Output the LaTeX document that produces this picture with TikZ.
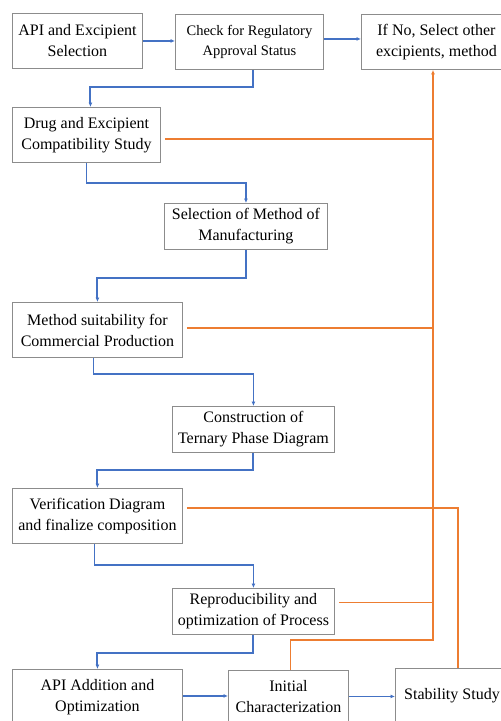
\documentclass[tikz,border=0pt]{standalone}
\usepackage{fontspec}
\setmainfont{Liberation Serif}
\usetikzlibrary{calc,arrows.meta}
\definecolor{flowblue}{HTML}{4472C4}
\definecolor{feedorange}{HTML}{ED7D31}

\begin{document}
\begin{tikzpicture}[>={Latex[length=4.5pt,width=4pt]},x=1pt,y=-1pt,
  box/.style={draw=black!45,line width=0.9pt,anchor=north west,align=center,
    inner sep=2pt,font=\fontsize{16}{21}\selectfont},
  flow/.style={->,draw=flowblue,line width=1.3pt},
  flowthick/.style={flow,line width=2pt},
  feed/.style={draw=feedorange,line width=1.6pt}]
  \useasboundingbox (0,0) rectangle (501,721);

  \node[box,minimum width=130,minimum height=55] (apisel) at (12,13) {API and Excipient\\Selection};
  \node[box,minimum width=148,minimum height=55,font=\fontsize{14.5}{20}\selectfont] (check) at (175,14) {Check for Regulatory\\Approval Status};
  \node[box,minimum width=150,minimum height=55] (ifno) at (361,14) {If No, Select other\\excipients, method};
  \node[box,minimum width=148,minimum height=55] (drug) at (12,107) {Drug and Excipient\\Compatibility Study};
  \node[box,minimum width=163,minimum height=46] (method) at (164,203) {Selection of Method of\\Manufacturing};
  \node[box,minimum width=170,minimum height=55] (suit) at (12,302) {Method suitability for\\Commercial Production};
  \node[box,minimum width=162,minimum height=46] (ternary) at (172,406) {Construction of\\Ternary Phase Diagram};
  \node[box,minimum width=170,minimum height=55] (verif) at (12,488) {Verification Diagram\\and finalize composition};
  \node[box,minimum width=162,minimum height=46] (repro) at (172,588) {Reproducibility and\\optimization of Process};
  \node[box,minimum width=170,minimum height=55] (apiadd) at (12,669) {API Addition and\\Optimization};
  \node[box,minimum width=120,minimum height=52] (initchar) at (228,670) {Initial\\Characterization};
  \node[box,minimum width=113,minimum height=55] (stab) at (395,668) {Stability Study};

  \draw[flowthick] (apisel.east) -- (apisel.east -| check.west);
  \draw[flow] ([yshift=3pt]check.east) -- ([yshift=3pt]check.east -| ifno.west);
  \draw[flowthick] ([xshift=4pt]check.south) -- ++(0,17) -| ([xshift=4pt]drug.north);
  \draw[flow,line width=1.5pt] (drug.south) -- ++(0,20) -| (method.north);
  \draw[flowthick] (method.south) -- ++(0,28) -| (suit.north);
  \draw[flow] ([xshift=-4pt]suit.south) -- ++(0,16) -| (ternary.north);
  \draw[flowthick] (ternary.south) -- ++(0,17) -| (verif.north);
  \draw[flow,line width=1.5pt] ([xshift=-3pt]verif.south) -- ++(0,21) -| (repro.north);
  \draw[flowthick] (repro.south) -- ++(0,18) -| (apiadd.north);
  \draw[flow] ([yshift=1pt]apiadd.east) -- ([yshift=1pt]apiadd.east -| initchar.west);
  \draw[flow] (initchar.east) -- (initchar.east -| stab.west);

  \coordinate (trunk) at (433,640);
  \draw[feed,->] ([xshift=2pt]initchar.north) |- (trunk) -- (trunk |- ifno.south);
  \foreach \src/\dy in {drug/-4,suit/2,repro/9}
    \draw[feed] ([xshift=4pt,yshift=\dy pt]\src.east) -- ([yshift=\dy pt]\src.east -| trunk);
  \draw[feed] ([xshift=4pt,yshift=8pt]verif.east) -| ([xshift=6pt]stab.north);
\end{tikzpicture}
\end{document}
